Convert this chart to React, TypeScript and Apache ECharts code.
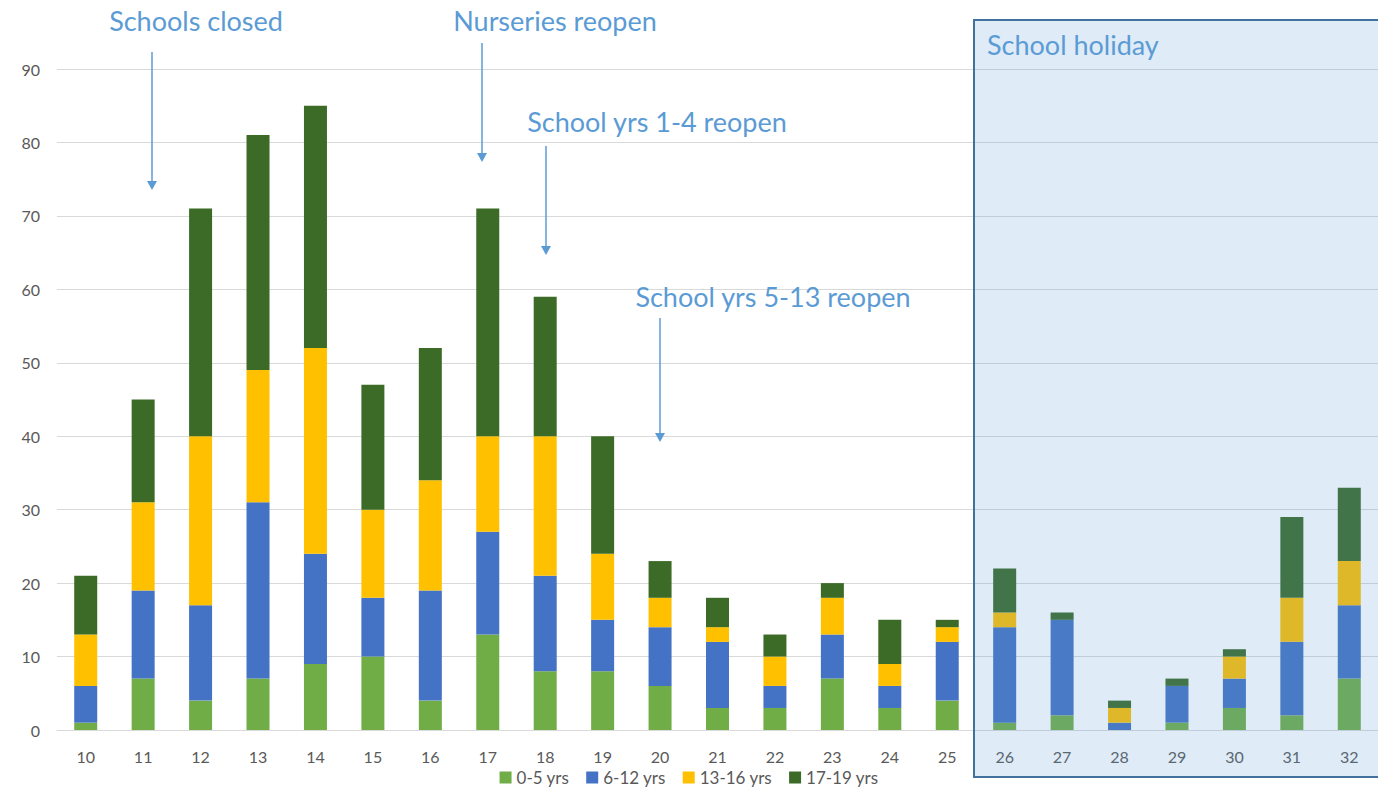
import React, { useEffect, useRef } from "react";
import * as echarts from "echarts";

const weeks = ["10","11","12","13","14","15","16","17","18","19","20","21","22","23","24","25","26","27","28","29","30","31","32"];
const age0to5 = [1,7,4,7,9,10,4,13,8,8,6,3,3,7,3,4,1,2,0,1,3,2,7];
const age6to12 = [5,12,13,24,15,8,15,14,13,7,8,9,3,6,3,8,13,13,1,5,4,10,10];
const age13to16 = [7,12,23,18,28,12,15,13,19,9,4,2,4,5,3,2,2,0,2,0,3,6,6];
const age17to19 = [8,14,31,32,33,17,18,31,19,16,5,4,3,2,6,1,6,1,1,1,1,11,10];
const seriesNames = ["0-5 yrs", "6-12 yrs", "13-16 yrs", "17-19 yrs"];
const seriesColors = ["#70AD47", "#4472C4", "#FFC000", "#3B6B27"];

const annoColor = "#5B9BD5";
const font = "Lato, 'Open Sans', sans-serif";

function arrow(x: number, y1: number, y2: number) {
  return [
    { type: "line", shape: { x1: x, y1, x2: x, y2: y2 - 8 }, style: { stroke: annoColor, lineWidth: 1.5 }, z: 20 },
    { type: "polygon", shape: { points: [[x - 5, y2 - 9], [x + 5, y2 - 9], [x, y2]] }, style: { fill: annoColor }, z: 20 },
  ];
}

function annoText(text: string, x: number, y: number, align: string = "center") {
  return {
    type: "text", x, y, z: 20,
    style: { text, fill: annoColor, font: `27px ${font}`, align, verticalAlign: "middle" },
  };
}

export default function App() {
  const ref = useRef<HTMLDivElement>(null);
  useEffect(() => {
    const chart = echarts.init(ref.current!, undefined, { renderer: "svg" });
    const data = [age0to5, age6to12, age13to16, age17to19];
    chart.setOption({
      animation: false,
      backgroundColor: "#fff",
      grid: { left: 57, right: 0, top: 69, bottom: 65 },
      legend: {
        bottom: 4, left: "center",
        itemWidth: 12, itemHeight: 12, itemGap: 17,
        icon: "rect",
        textStyle: { color: "#595959", fontSize: 17, fontFamily: font },
        data: seriesNames,
      },
      xAxis: {
        type: "category", data: weeks,
        axisLine: { lineStyle: { color: "#D9D9D9" } },
        axisTick: { show: false },
        axisLabel: { color: "#595959", fontSize: 16, fontFamily: font, margin: 18 },
      },
      yAxis: {
        type: "value", min: 0, max: 90, interval: 10,
        axisLine: { show: false }, axisTick: { show: false },
        axisLabel: { color: "#595959", fontSize: 16, fontFamily: font, margin: 17 },
        splitLine: { lineStyle: { color: "#D9D9D9" } },
      },
      series: seriesNames.map((name, i) => ({
        name, type: "bar", stack: "total", barWidth: 23,
        itemStyle: { color: seriesColors[i] },
        data: data[i],
      })),
      graphic: [
        {
          type: "rect", z: 10,
          shape: { x: 974, y: 20, width: 420, height: 757 },
          style: { fill: "rgba(95,155,210,0.2)", stroke: "#41719C", lineWidth: 2 },
        },
        annoText("School holiday", 987, 44, "left"),
        annoText("Schools closed", 196, 20),
        ...arrow(152, 52, 190),
        annoText("Nurseries reopen", 555, 20),
        ...arrow(482, 43, 162),
        annoText("School yrs 1-4 reopen", 657, 121),
        ...arrow(546, 146, 255),
        annoText("School yrs 5-13 reopen", 773, 296),
        ...arrow(660, 318, 442),
      ],
    });
    return () => chart.dispose();
  }, []);
  return <div ref={ref} style={{ position: "fixed", left: 0, top: 0, width: 1378, height: 795 }} />;
}
